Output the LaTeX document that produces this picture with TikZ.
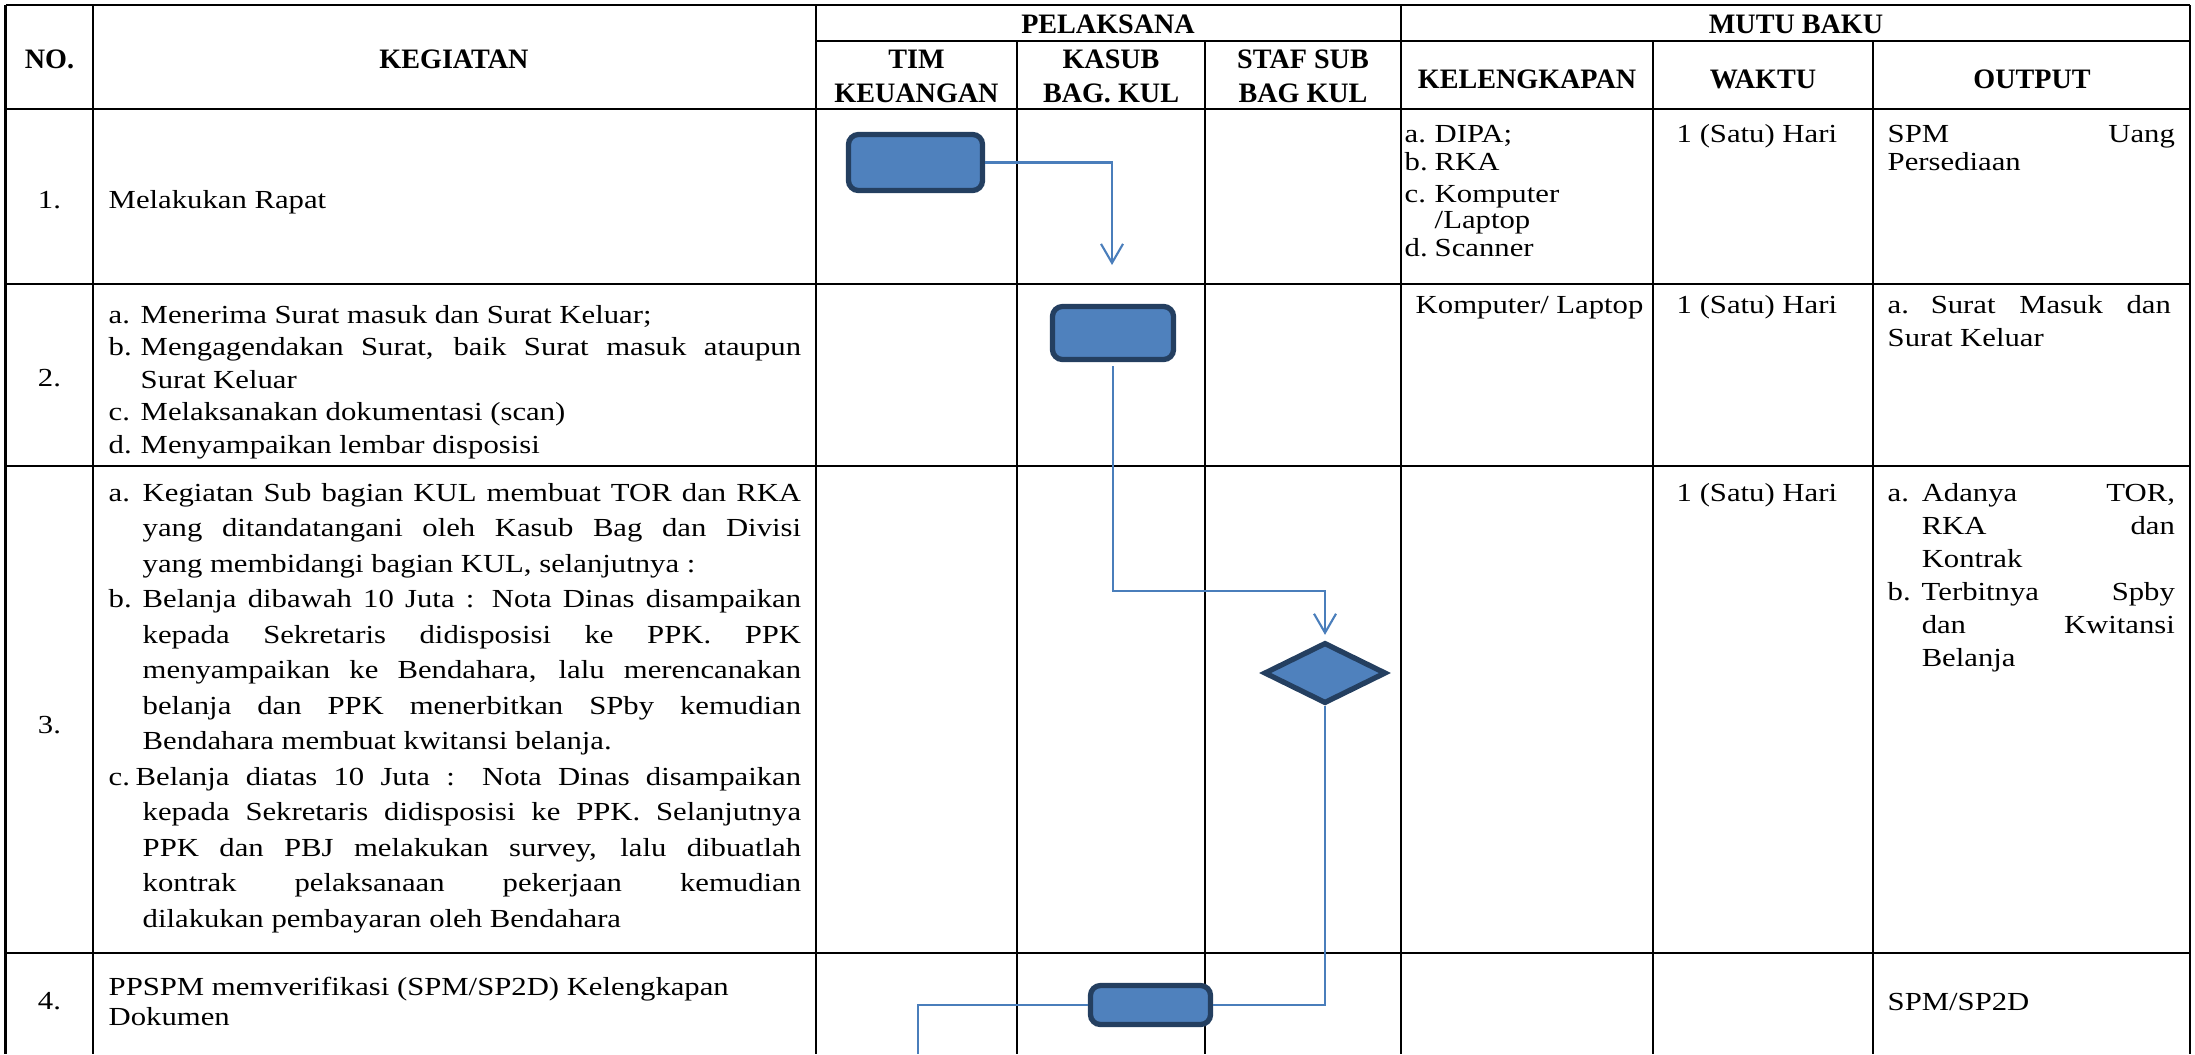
\documentclass[tikz,border=0pt]{standalone}
\usepackage{fontspec}
\setmainfont{Liberation Serif}[FakeStretch=1.18]
\newfontfamily\hdfont{Liberation Serif}
\usepackage{xcolor}
\usetikzlibrary{arrows.meta,shapes.geometric,positioning}
\definecolor{boxfill}{HTML}{4F81BD}
\definecolor{boxline}{HTML}{243F60}
\definecolor{flowline}{HTML}{4A7EBB}
\newcommand{\jl}[2]{\makebox[#1][s]{#2}}

\begin{document}
\begin{tikzpicture}[x=0.01cm, y=-0.01cm,
  grid/.style={line width=0.8pt, black},
  hd/.style={font=\hdfont\fontsize{8}{9.7}\selectfont\bfseries, inner sep=0pt, anchor=base},
  txt/.style={font=\fontsize{7.4}{#1}\selectfont, inner sep=0pt, anchor=base west},
  txt/.default={8.5pt},
  num/.style={font=\fontsize{7.4}{8.5}\selectfont, inner sep=0pt, anchor=base},
  proc/.style={draw=boxline, fill=boxfill, line width=1.5pt, rounded corners=1mm, inner sep=0pt},
  dec/.style={diamond, draw=boxline, fill=boxfill, line width=1.5pt, inner sep=0pt, aspect=2},
  flow/.style={draw=flowline, line width=0.6pt},
  arr/.style={-{Straight Barb[length=1.9mm, width=2.2mm]}}]
  \useasboundingbox (0,0) rectangle (2195,1054);

  % table grid
  \foreach \x in {5.6, 93, 816, 1401, 2190} \draw[grid] (\x,5) -- (\x,1054);
  \foreach \x in {1017, 1205, 1653, 1873} \draw[grid] (\x,41) -- (\x,1054);
  \foreach \y in {5, 109, 284, 466, 953} \draw[grid] (5.6,\y) -- (2190,\y);
  \draw[grid] (816,41) -- (2190,41);

  % header
  \node[hd] (hno) at (49.5,68) {NO.};
  \node[hd] (hkeg) at (454,68) {KEGIATAN};
  \node[hd] (hpel) at (1108,33) {PELAKSANA};
  \node[hd] (hmutu) at (1796,33) {MUTU BAKU};
  \node[hd] (htim) at (916.5,68) {\begin{tabular}[t]{@{}c@{}}TIM\\KEUANGAN\end{tabular}};
  \node[hd] (hkasub) at (1111,68) {\begin{tabular}[t]{@{}c@{}}KASUB\\BAG. KUL\end{tabular}};
  \node[hd] (hstaf) at (1303,68) {\begin{tabular}[t]{@{}c@{}}STAF SUB\\BAG KUL\end{tabular}};
  \node[hd] (hkel) at (1527,88) {KELENGKAPAN};
  \node[hd] (hwaktu) at (1763,88) {WAKTU};
  \node[hd] (hout) at (2032,88) {OUTPUT};

  % nomor
  \node[num] (n1) at (49.5,208) {1.};
  \node[num] (n2) at (49.5,386) {2.};
  \node[num] (n3) at (49.5,733) {3.};
  \node[num] (n4) at (49.5,1009) {4.};

  % kegiatan
  \node[txt] (k1) at (108,208) {Melakukan Rapat};
  \node[txt=9.25pt] (k2) at (108,323) {\begin{tabular}[t]{@{}p{3.2mm}@{}l@{}}
    a. & Menerima Surat masuk dan Surat Keluar;\\
    b. & \jl{66mm}{Mengagendakan Surat, baik Surat masuk ataupun}\\
       & Surat Keluar\\
    c. & Melaksanakan dokumentasi (scan)\\
    d. & Menyampaikan lembar disposisi
  \end{tabular}};
  \node[txt=10.1pt] (k3) at (108,501) {\begin{tabular}[t]{@{}p{3.4mm}@{}l@{}}
    a. & \jl{65.8mm}{Kegiatan Sub bagian KUL membuat TOR dan RKA}\\
       & \jl{65.8mm}{yang ditandatangani oleh Kasub Bag dan Divisi}\\
       & yang membidangi bagian KUL, selanjutnya :\\
    b. & \jl{65.8mm}{Belanja dibawah 10 Juta : Nota Dinas disampaikan}\\
       & \jl{65.8mm}{kepada Sekretaris didisposisi ke PPK. PPK}\\
       & \jl{65.8mm}{menyampaikan ke Bendahara, lalu merencanakan}\\
       & \jl{65.8mm}{belanja dan PPK menerbitkan SPby kemudian}\\
       & Bendahara membuat kwitansi belanja.\\
    \multicolumn{2}{@{}l@{}}{\makebox[2.7mm][l]{c.}\jl{66.5mm}{Belanja diatas 10 Juta : Nota Dinas disampaikan}}\\
       & \jl{65.8mm}{kepada Sekretaris didisposisi ke PPK. Selanjutnya}\\
       & \jl{65.8mm}{PPK dan PBJ melakukan survey, lalu dibuatlah}\\
       & \jl{65.8mm}{kontrak pelaksanaan pekerjaan kemudian}\\
       & dilakukan pembayaran oleh Bendahara
  \end{tabular}};
  \node[txt=8.8pt] (k4) at (108,995) {\begin{tabular}[t]{@{}l@{}}
    PPSPM memverifikasi (SPM/SP2D) Kelengkapan\\Dokumen
  \end{tabular}};

  % kelengkapan
  \node[txt=7.4pt] (l1) at (1404,142) {\begin{tabular}[t]{@{}p{3mm}@{}l@{}}
    a. & DIPA;\\[0.2mm]
    b. & RKA\\[0.6mm]
    c. & Komputer\\
       & /Laptop\\[0.2mm]
    d. & Scanner
  \end{tabular}};
  \node[txt] (l2) at (1415,313) {Komputer/ Laptop};

  % waktu
  \node[txt] (w1) at (1676,142) {1 (Satu) Hari};
  \node[txt] (w2) at (1676,313) {1 (Satu) Hari};
  \node[txt] (w3) at (1676,501) {1 (Satu) Hari};

  % output
  \node[txt=8pt] (o1) at (1887,142) {\begin{tabular}[t]{@{}l@{}}
    \jl{28.7mm}{SPM Uang}\\Persediaan
  \end{tabular}};
  \node[txt=9.4pt] (o2) at (1887,313) {\begin{tabular}[t]{@{}l@{}}
    \jl{28.3mm}{\makebox[4.3mm][l]{a.}Surat Masuk dan}\\Surat Keluar
  \end{tabular}};
  \node[txt=9.4pt] (o3) at (1887,501) {\begin{tabular}[t]{@{}p{3.4mm}@{}l@{}}
    a. & \jl{25.3mm}{Adanya TOR,}\\
       & \jl{25.3mm}{RKA dan}\\
       & Kontrak\\
    b. & \jl{25.3mm}{Terbitnya Spby}\\
       & \jl{25.3mm}{dan Kwitansi}\\
       & Belanja
  \end{tabular}};
  \node[txt] (o4) at (1887,1010) {SPM/SP2D};

  % alur
  \node[proc, minimum width=13.4mm, minimum height=5.6mm] (p1) at (915.5,162.5) {};
  \node[proc, minimum width=12.1mm, minimum height=5.3mm] (p2) at (1113,333) {};
  \node[dec, minimum width=12.2mm, minimum height=6.1mm] (d1) at (1325,673) {};
  \node[proc, minimum width=12.0mm, minimum height=3.9mm] (p3) at (1150.5,1005) {};
  \coordinate (t1) at (1112,265);
  \coordinate (j2) at (1325,591);
  \coordinate (e4) at (918,1054);

  \draw[flow, arr] (p1.east) -| (t1);
  \draw[flow, arr, shorten <=0.4mm, shorten >=0.5mm] (p2.south) |- (j2) -- (d1.north);
  \draw[flow] (d1.south) |- (p3.east);
  \draw[flow] (p3.west) -| (e4);
\end{tikzpicture}
\end{document}
